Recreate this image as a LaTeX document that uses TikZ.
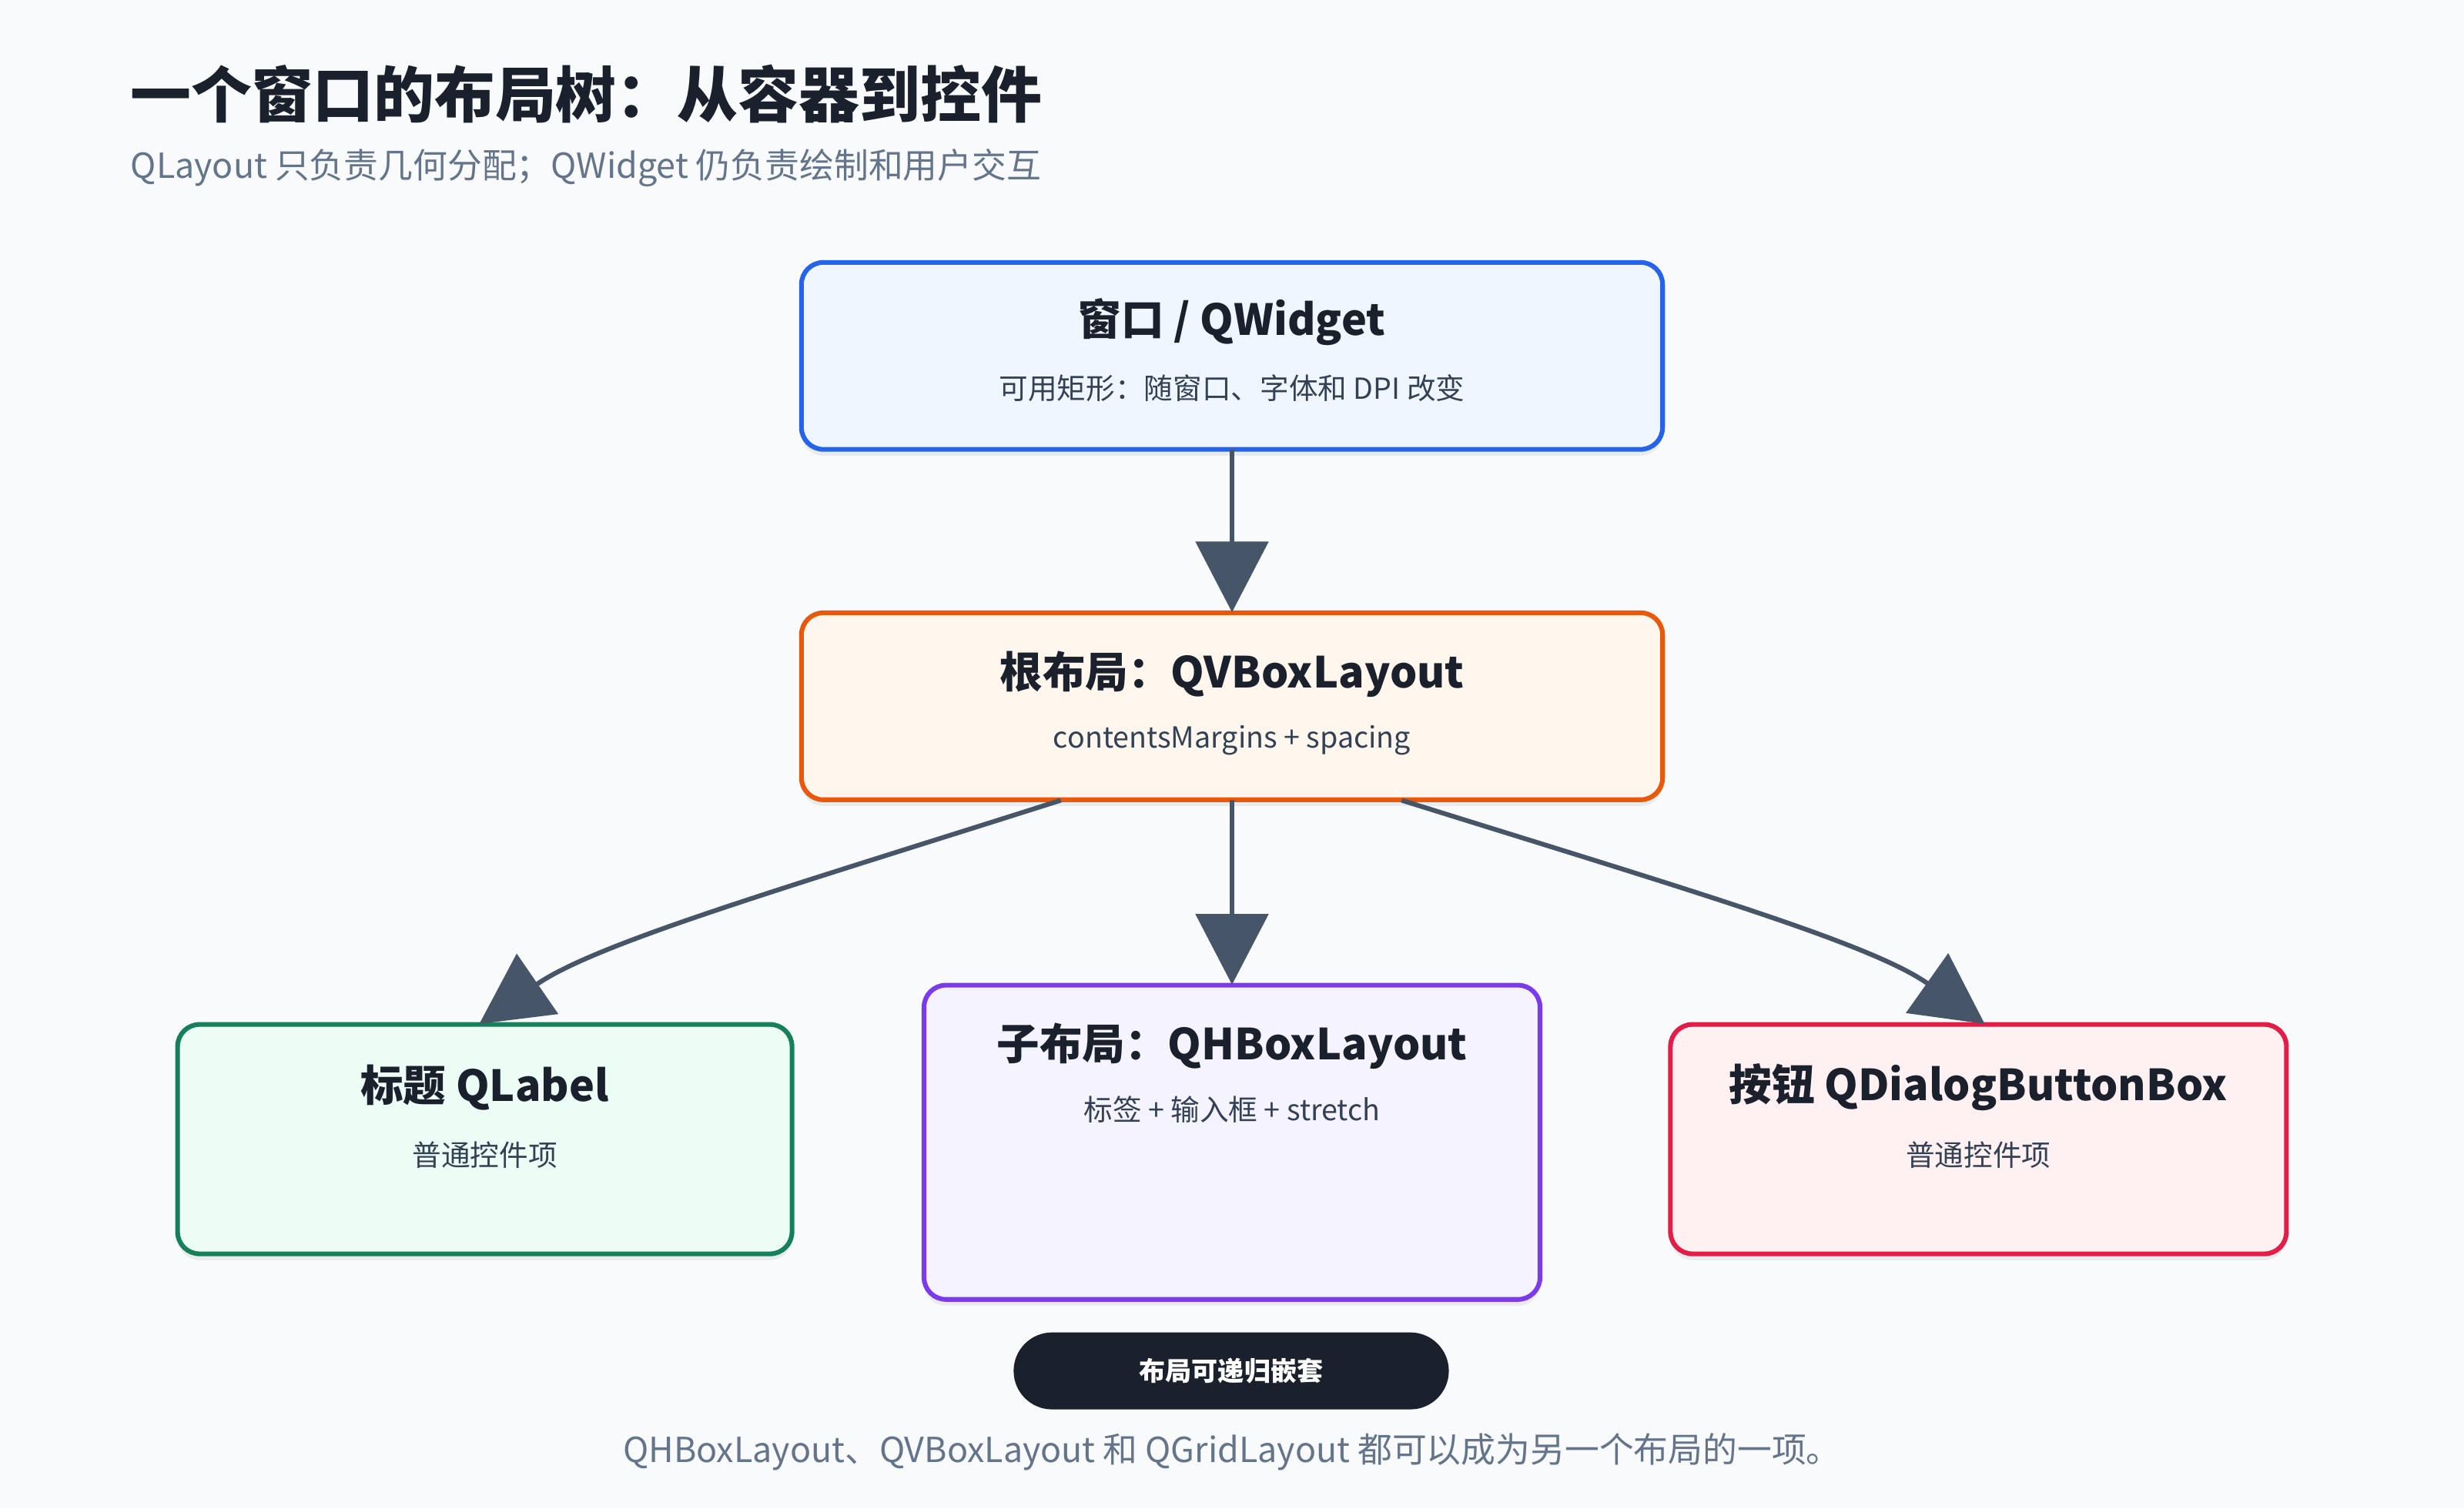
\documentclass[tikz,border=0pt]{standalone}
\usepackage{fontspec}
\setmainfont{Noto Sans CJK SC}
\usetikzlibrary{arrows.meta,shadows}
\definecolor{bg}{HTML}{F8FAFC}
\definecolor{ink}{HTML}{1A202C}
\definecolor{sub}{HTML}{334155}
\definecolor{gr}{HTML}{64748B}
\definecolor{arr}{HTML}{475569}
\begin{document}
\begin{tikzpicture}[x=0.02cm,y=-0.02cm,
  box/.style={draw,line width=1.7pt,rounded corners=0.28cm,drop shadow={opacity=0.12,shadow xshift=0pt,shadow yshift=-0.08cm}},
  ttl/.style={font=\bfseries\fontsize{15.5}{18}\selectfont,text=ink},
  st/.style={font=\fontsize{10.5}{13}\selectfont,text=sub},
  arw/.style={draw=arr,line width=1.7pt,-{Triangle[width=0.92cm,length=0.9cm]}}]
\fill[bg] (0,0) rectangle (1568,960);
\node[anchor=west,font=\bfseries\fontsize{22}{26}\selectfont,text=ink] (title) at (77,60) {一个窗口的布局树：从容器到控件};
\node[anchor=west,font=\fontsize{12.5}{15}\selectfont,text=gr] (subtitle) at (77,107) {QLayout 只负责几何分配；QWidget 仍负责绘制和用户交互};
% boxes
\path[box,draw=blue!70!black!80,draw={rgb,255:red,37;green,99;blue,235},fill={rgb,255:red,239;green,246;blue,255}] (510,167) rectangle (1058,286);
\node[minimum width=10.96cm,minimum height=2.38cm] (win) at (784,226.5) {};
\path[box,draw={rgb,255:red,234;green,88;blue,12},fill={rgb,255:red,255;green,247;blue,237}] (510,390) rectangle (1058,509);
\node[minimum width=10.96cm,minimum height=2.38cm] (root) at (784,449.5) {};
\path[box,draw={rgb,255:red,21;green,128;blue,90},fill={rgb,255:red,236;green,253;blue,245}] (113,652) rectangle (504,798);
\node[minimum width=7.82cm,minimum height=2.92cm] (lbl) at (308.5,725) {};
\path[box,draw={rgb,255:red,124;green,58;blue,237},fill={rgb,255:red,245;green,243;blue,255}] (588,627) rectangle (980,827);
\node[minimum width=7.84cm,minimum height=4cm] (hb) at (784,727) {};
\path[box,draw={rgb,255:red,225;green,29;blue,72},fill={rgb,255:red,255;green,241;blue,242}] (1063,652) rectangle (1455,798);
\node[minimum width=7.84cm,minimum height=2.92cm] (btn) at (1259,725) {};
% texts
\node[ttl] (t1) at (784,205) {窗口 / QWidget};
\node[st] (s1) at (784,247) {可用矩形：随窗口、字体和 DPI 改变};
\node[ttl] (t2) at (784,429) {根布局：QVBoxLayout};
\node[st] (s2) at (784,471) {contentsMargins + spacing};
\node[ttl] (t3) at (308.5,692) {标题 QLabel};
\node[st] (s3) at (308.5,735) {普通控件项};
\node[ttl] (t4) at (784,666) {子布局：QHBoxLayout};
\node[st] (s4) at (784,706) {标签 + 输入框 + stretch};
\node[ttl] (t5) at (1259,692) {按钮 QDialogButtonBox};
\node[st] (s5) at (1259,735) {普通控件项};
\node[fill=ink,rounded corners=0.49cm,minimum width=5.54cm,minimum height=0.98cm,text=white,font=\bfseries\fontsize{9.5}{11}\selectfont] (pill) at (783.5,872.5) {布局可递归嵌套};
\node[font=\fontsize{12.5}{15}\selectfont,text=gr] (note) at (784,924) {QHBoxLayout、QVBoxLayout 和 QGridLayout 都可以成为另一个布局的一项。};
% arrows
\draw[arw] (win.south) -- (root.north);
\draw[arw] (root.south) -- (hb.north);
\draw[arw] ([xshift=-2.18cm]root.south) .. controls (500,565) and (380,600) .. ([xshift=-0.07cm]lbl.north);
\draw[arw] ([xshift=2.16cm]root.south) .. controls (1070,565) and (1190,600) .. ([xshift=0.08cm]btn.north);
\end{tikzpicture}
\end{document}
